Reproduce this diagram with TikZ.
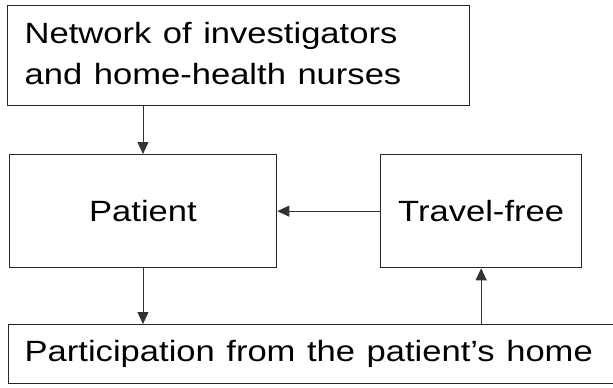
\documentclass[tikz,border=0pt]{standalone}
\usepackage{fontspec}
\setmainfont{Liberation Sans}
\usepackage{graphicx}
\usetikzlibrary{arrows.meta}
\newcommand{\widetext}[1]{\scalebox{1.18}[1]{#1}}
\begin{document}
\begin{tikzpicture}[x=1pt,y=-1pt,
  box/.style={draw=black!85, line width=1.3pt, inner ysep=0pt, inner xsep=0pt,
    font=\fontsize{29.3}{41}\selectfont, text=black},
  arr/.style={draw=black!80, line width=0.8pt, -{Triangle[length=12pt,width=11pt]}}]
\useasboundingbox (0,0) rectangle (613,388);
\node[box, anchor=north west, minimum height=100pt, inner xsep=17pt, text width=428pt, align=left] (net) at (7,5)
  {\widetext{\begin{tabular}{@{}l@{}}Network of investigators\\and home-health nurses\end{tabular}}};
\node[box, anchor=north west, minimum width=267.4pt, minimum height=113pt] (pat) at (8.6,154) {\widetext{Patient}};
\node[box, anchor=north west, minimum width=201pt, minimum height=113pt] (tf) at (380,154) {\widetext{Travel-free}};
\node[box, anchor=north west, minimum height=59pt, inner xsep=16pt, text width=580pt, align=left] (bot) at (8,324)
  {\widetext{Participation from the patient’s home}};
\draw[arr] (pat.north |- net.south) -- (pat.north);
\draw[arr] (pat.south) -- (pat.south |- bot.north);
\draw[arr] (tf.west) -- (tf.west -| pat.east);
\draw[arr] (tf.south |- bot.north) -- (tf.south);
\end{tikzpicture}
\end{document}
